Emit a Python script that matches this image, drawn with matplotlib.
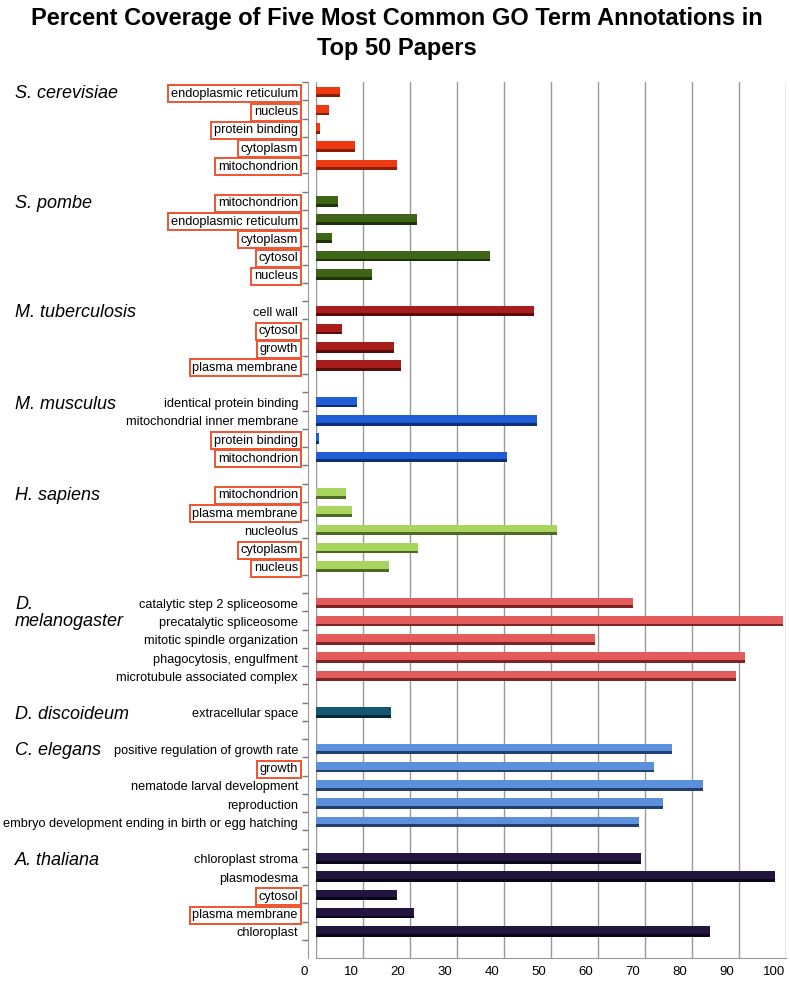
import matplotlib
matplotlib.use('Agg')
import matplotlib.pyplot as plt
import matplotlib.transforms as mtransforms

plt.rcParams['font.family'] = ['Liberation Sans', 'DejaVu Sans']

# organisms, their terms (top to bottom), percent coverage, and which terms are boxed
organisms = ['S. cerevisiae', 'S. pombe', 'M. tuberculosis', 'M. musculus', 'H. sapiens',
             'D.\nmelanogaster', 'D. discoideum', 'C. elegans', 'A. thaliana']

terms = [
    ['endoplasmic reticulum', 'nucleus', 'protein binding', 'cytoplasm', 'mitochondrion'],
    ['mitochondrion', 'endoplasmic reticulum', 'cytoplasm', 'cytosol', 'nucleus'],
    ['cell wall', 'cytosol', 'growth', 'plasma membrane'],
    ['identical protein binding', 'mitochondrial inner membrane', 'protein binding', 'mitochondrion'],
    ['mitochondrion', 'plasma membrane', 'nucleolus', 'cytoplasm', 'nucleus'],
    ['catalytic step 2 spliceosome', 'precatalytic spliceosome', 'mitotic spindle organization',
     'phagocytosis, engulfment', 'microtubule associated complex'],
    ['extracellular space'],
    ['positive regulation of growth rate', 'growth', 'nematode larval development', 'reproduction',
     'embryo development ending in birth or egg hatching'],
    ['chloroplast stroma', 'plasmodesma', 'cytosol', 'plasma membrane', 'chloroplast'],
]

coverage = [
    [5.1, 2.8, 0.9, 8.4, 17.3],
    [4.7, 21.4, 3.5, 37.0, 11.9],
    [46.4, 5.6, 16.7, 18.0],
    [8.7, 47.0, 0.7, 40.6],
    [6.4, 7.6, 51.3, 21.6, 15.6],
    [67.4, 99.4, 59.4, 91.3, 89.4],
    [16.0],
    [75.8, 72.0, 82.3, 73.9, 68.7],
    [69.1, 97.6, 17.2, 20.9, 83.8],
]

boxed = [
    [1, 1, 1, 1, 1],
    [1, 1, 1, 1, 1],
    [0, 1, 1, 1],
    [0, 0, 1, 1],
    [1, 1, 0, 1, 1],
    [0, 0, 0, 0, 0],
    [0],
    [0, 1, 0, 0, 0],
    [0, 0, 1, 1, 0],
]

colors = ['#EE3A12', '#3E6416', '#A81C1C', '#1F5ED8', '#A9D45E',
          '#E35B5B', '#135873', '#5C90DD', '#221640']
darks = ['#8A1E05', '#1E3308', '#5A0C0C', '#0E2F70', '#4F6A22',
         '#7E2626', '#06293A', '#22406E', '#0A0618']

xticks = list(range(0, 101, 10))

# build rows, with one blank row between organisms
ypos, vals, labs, boxes, cols, dcols, org_rows = [], [], [], [], [], [], []
row = 0
for i, org in enumerate(organisms):
    org_rows.append(row)
    for t, v, b in zip(terms[i], coverage[i], boxed[i]):
        ypos.append(row)
        vals.append(v)
        labs.append(t)
        boxes.append(b)
        cols.append(colors[i])
        dcols.append(darks[i])
        row += 1
    row += 1
nrows = row

fig = plt.figure(figsize=(7.9, 9.84), dpi=100)
ax = fig.add_axes([316 / 790, 26 / 984, 470 / 790, 876 / 984])

start = -0.7
# shadow then body, for a rough 3D look
ax.barh([y + 0.06 for y in ypos], [v - start for v in vals], left=start, height=0.54,
        color=dcols, zorder=3)
ax.barh([y - 0.03 for y in ypos], [v - start for v in vals], left=start, height=0.42,
        color=cols, zorder=4)

ax.set_xlim(0, 100)
ax.set_ylim(nrows - 0.5, -0.5)
ax.set_xticks(xticks)
ax.set_xticklabels([str(t) for t in xticks], fontsize=9.5)
ax.tick_params(axis='x', length=0, pad=6)
offset = mtransforms.ScaledTranslation(-12 / 100, 0, fig.dpi_scale_trans)
for lbl in ax.get_xticklabels():
    lbl.set_transform(lbl.get_transform() + offset)

# term labels drawn as text so the red boxes stay
ax.set_yticks([])
ax.set_yticks([i + 0.5 for i in range(-1, nrows - 1)], minor=True)
ax.tick_params(axis='y', which='minor', length=4, color='#777777', width=1)
lab_trans = mtransforms.blended_transform_factory(fig.transFigure, ax.transData)
for y, t, b in zip(ypos, labs, boxes):
    txt = ax.text(298 / 790, y + 0.15, t, transform=lab_trans, ha='right', va='center',
                  fontsize=9.2)
    if b:
        txt.set_bbox(dict(facecolor='white', edgecolor='#EE5530', linewidth=1.4, pad=1.8))

ax.grid(axis='x', color='#999999', linewidth=1)
ax.set_axisbelow(True)
for s in ['top', 'right']:
    ax.spines[s].set_visible(False)
ax.spines['left'].set_position(('outward', 6))
ax.spines['left'].set_color('#999999')
ax.spines['bottom'].set_color('#999999')

for org, r in zip(organisms, org_rows):
    if '\n' in org:
        ax.text(15 / 790, r + 0.6, org, transform=lab_trans, fontsize=13, style='italic',
                va='center', ha='left', linespacing=1.0)
    else:
        ax.text(15 / 790, r + 0.15, org, transform=lab_trans, fontsize=13, style='italic',
                va='center', ha='left')

fig.text(0.503, 0.993, 'Percent Coverage of Five Most Common GO Term Annotations in\nTop 50 Papers',
         ha='center', va='top', fontsize=17, weight='bold', linespacing=1.4)

fig.savefig('out.png', dpi=100)
